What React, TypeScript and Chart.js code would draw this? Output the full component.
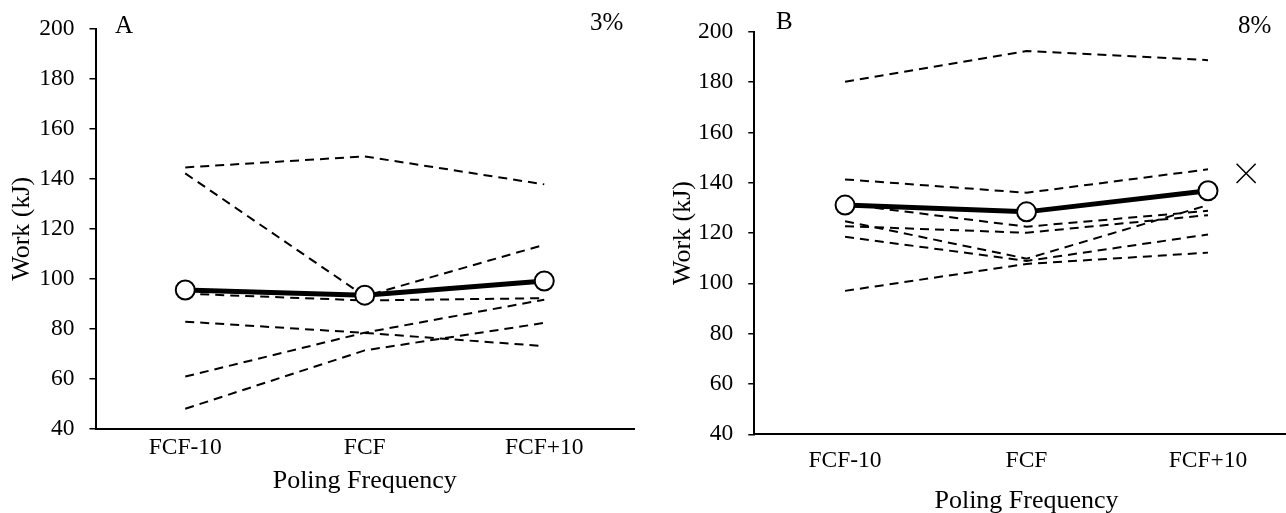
import React, { useEffect, useRef } from "react";
import { Chart, registerables } from "chart.js";

Chart.register(...registerables);

// ---------- DATA ----------
const categories = ["FCF-10", "FCF", "FCF+10"];
const yMin = 40;
const yMax = 200;
const yStep = 20;

// Panel A (3%)
const meanA = [95.5, 93.4, 99.1];
const subjectA1 = [144.6, 149.0, 137.8];
const subjectA2 = [142.2, 93.0, 113.6];
const subjectA3 = [94.0, 91.3, 92.2];
const subjectA4 = [82.8, 78.3, 73.0];
const subjectA5 = [60.8, 78.4, 91.6];
const subjectA6 = [47.9, 71.3, 82.3];

// Panel B (8%)
const meanB = [131.1, 128.4, 136.8];
const subjectB1 = [180.1, 192.3, 188.7];
const subjectB2 = [141.3, 136.0, 145.3];
const subjectB3 = [131.5, 122.5, 128.8];
const subjectB4 = [124.7, 109.8, 131.1];
const subjectB5 = [122.7, 120.1, 127.1];
const subjectB6 = [118.5, 108.9, 119.4];
const subjectB7 = [97.0, 107.7, 112.2];
const markerBx = [2.21];
const markerBy = [143.7];

// ---------- STYLE / LAYOUT ----------
const FONT = '"Liberation Serif", "Times New Roman", serif';
const CANVAS_W = 660;
const CANVAS_H = 530;
const TICK_SIZE = 23.5;
const TITLE_SIZE = 26;
const NOTE_SIZE = 25;

type Panel = {
  left: number;
  plotLeft: number;
  plotRight: number;
  plotTop: number;
  plotBottom: number;
  xTickPad: number;
  xTitleCenter: number;
  yTitleCenter: number;
  mean: number[];
  subjects: number[][];
  markerX?: number[];
  markerY?: number[];
  texts: { text: string; x: number; y: number }[];
};

const panels: Panel[] = [
  {
    left: 0,
    plotLeft: 95.5,
    plotRight: 634,
    plotTop: 26,
    plotBottom: 428.5,
    xTickPad: 5,
    xTitleCenter: 481,
    yTitleCenter: 22,
    mean: meanA,
    subjects: [subjectA1, subjectA2, subjectA3, subjectA4, subjectA5, subjectA6],
    texts: [
      { text: "A", x: 115, y: 33 },
      { text: "3%", x: 590, y: 30 },
    ],
  },
  {
    left: 660,
    plotLeft: 94.3,
    plotRight: 638.75,
    plotTop: 31.7,
    plotBottom: 434.3,
    xTickPad: 12,
    xTitleCenter: 501,
    yTitleCenter: 23,
    mean: meanB,
    subjects: [subjectB1, subjectB2, subjectB3, subjectB4, subjectB5, subjectB6, subjectB7],
    markerX: markerBx,
    markerY: markerBy,
    texts: [
      { text: "B", x: 116, y: 28.5 },
      { text: "8%", x: 578, y: 33 },
    ],
  },
];

const toXY = (vals: number[]) => vals.map((v, i) => ({ x: i, y: v }));

function textPlugin(texts: { text: string; x: number; y: number }[]) {
  return {
    id: "panelText",
    afterDraw(chart: any) {
      const ctx = chart.ctx;
      ctx.save();
      ctx.font = `${NOTE_SIZE}px ${FONT}`;
      ctx.fillStyle = "#000";
      ctx.textBaseline = "alphabetic";
      ctx.textAlign = "left";
      texts.forEach((t) => ctx.fillText(t.text, t.x, t.y));
      ctx.restore();
    },
  };
}

function buildConfig(p: Panel): any {
  const tickFont = { family: FONT, size: TICK_SIZE };
  const titleFont = { family: FONT, size: TITLE_SIZE };
  const lh = TITLE_SIZE * 1.2;
  const datasets: any[] = [
    {
      label: "Mean",
      data: toXY(p.mean),
      borderColor: "#000",
      borderWidth: 5,
      pointRadius: 9.5,
      pointBackgroundColor: "#fff",
      pointBorderColor: "#000",
      pointBorderWidth: 2,
      order: 0,
    },
    ...p.subjects.map((s, i) => ({
      label: `S${i + 1}`,
      data: toXY(s),
      borderColor: "#000",
      borderWidth: 2,
      borderDash: [9, 6],
      pointRadius: 0,
      order: 2,
    })),
  ];
  if (p.markerX && p.markerY) {
    datasets.push({
      type: "scatter",
      label: "marker",
      data: p.markerX.map((x, i) => ({ x, y: p.markerY![i] })),
      pointStyle: "crossRot",
      pointRadius: 13.5,
      borderColor: "#000",
      pointBorderColor: "#000",
      pointBorderWidth: 1.5,
      showLine: false,
      order: 1,
    });
  }
  return {
    type: "line",
    data: { datasets },
    options: {
      responsive: false,
      animation: false,
      events: [],
      layout: {
        padding: { left: 0, top: p.plotTop, right: CANVAS_W - p.plotRight, bottom: 0 },
      },
      plugins: { legend: { display: false }, tooltip: { enabled: false } },
      scales: {
        x: {
          type: "linear",
          min: -0.5,
          max: 2.5,
          afterBuildTicks: (s: any) => {
            s.ticks = categories.map((_, i) => ({ value: i }));
          },
          afterFit: (s: any) => {
            s.height = CANVAS_H - p.plotBottom;
          },
          grid: { display: false, drawTicks: false },
          border: { display: true, color: "#000", width: 2 },
          ticks: {
            padding: p.xTickPad,
            color: "#000",
            font: tickFont,
            maxRotation: 0,
            autoSkip: false,
            callback: (v: any) => categories[v as number] ?? "",
          },
          title: {
            display: true,
            text: "Poling Frequency",
            color: "#000",
            font: titleFont,
            padding: { top: 0, bottom: CANVAS_H - p.xTitleCenter - lh / 2 },
          },
        },
        y: {
          min: yMin,
          max: yMax,
          afterFit: (s: any) => {
            s.width = p.plotLeft;
          },
          ticks: { stepSize: yStep, padding: 15, color: "#000", font: tickFont },
          grid: {
            drawOnChartArea: false,
            drawTicks: true,
            tickLength: 6,
            color: "#000",
            lineWidth: 1.5,
          },
          border: { display: true, color: "#000", width: 2 },
          title: {
            display: true,
            text: "Work (kJ)",
            color: "#000",
            font: titleFont,
            padding: { top: p.yTitleCenter - lh / 2, bottom: 0 },
          },
        },
      },
    },
    plugins: [textPlugin(p.texts)],
  };
}

function PanelChart({ p }: { p: Panel }) {
  const ref = useRef<HTMLCanvasElement | null>(null);
  useEffect(() => {
    if (!ref.current) return;
    const chart = new Chart(ref.current, buildConfig(p));
    return () => chart.destroy();
  }, [p]);
  return (
    <canvas
      ref={ref}
      width={CANVAS_W}
      height={CANVAS_H}
      style={{
        position: "absolute",
        left: p.left,
        top: 0,
        width: CANVAS_W,
        height: CANVAS_H,
      }}
    />
  );
}

export default function App() {
  return (
    <div
      style={{
        position: "fixed",
        left: 0,
        top: 0,
        width: 1286,
        height: 513,
        overflow: "hidden",
        background: "#fff",
      }}
    >
      {panels.map((p, i) => (
        <PanelChart key={i} p={p} />
      ))}
    </div>
  );
}
